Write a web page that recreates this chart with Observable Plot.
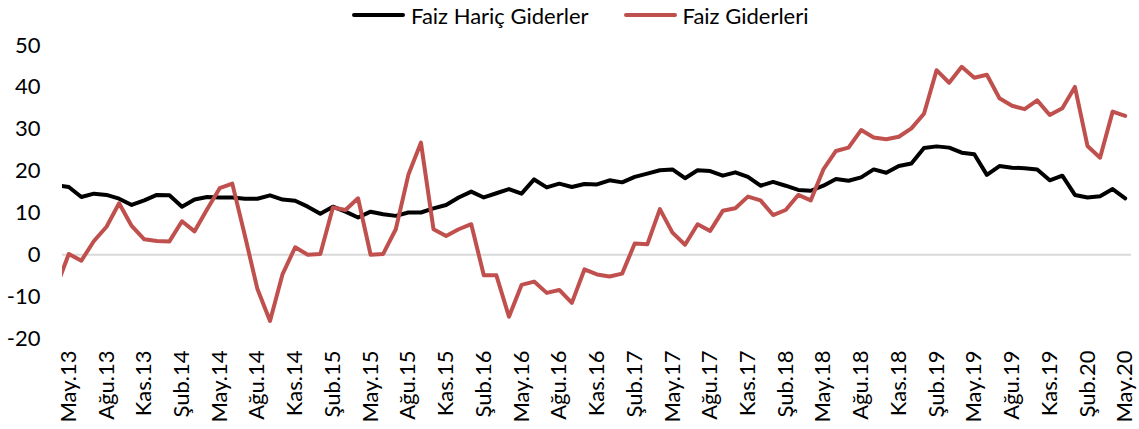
<!DOCTYPE html>
<html><head><meta charset="utf-8">
<script src="https://cdn.jsdelivr.net/npm/d3@7"></script>
<script src="https://cdn.jsdelivr.net/npm/@observablehq/plot@0.6"></script>
<style>
body{margin:0;background:#fff;font-family:Lato,sans-serif;}
#legend{height:30px;display:flex;align-items:center;padding-left:352px;font-size:22px;color:#000;}
.item{display:flex;align-items:center;margin-right:35px;}
.swatch{width:53px;height:4px;border-radius:2px;margin-right:6px;}
</style></head>
<body>
<div id="legend"></div>
<div id="chart"></div>
<script>
const seriesNames = ["Faiz Hariç Giderler", "Faiz Giderleri"];
const seriesColors = ["#000000", "#C0504D"];
// month index: -1 = Nis.13 (clipped), 0 = May.13 ... 84 = May.20
const monthIndex = d3.range(-1, 85);
const faizHaric = [16.6,
 16.2, 13.8, 14.6, 14.3, 13.4, 11.9, 13.0, 14.3, 14.2, 11.5, 13.2, 13.8,
 13.7, 13.7, 13.4, 13.4, 14.2, 13.2, 12.9, 11.5, 9.8, 11.5, 10.3, 8.9,
 10.3, 9.7, 9.3, 10.1, 10.1, 11.1, 11.9, 13.7, 15.1, 13.7, 14.7, 15.7,
 14.6, 18.0, 16.1, 17.0, 16.2, 16.9, 16.8, 17.8, 17.3, 18.6, 19.4, 20.2,
 20.4, 18.3, 20.2, 20.0, 18.9, 19.7, 18.6, 16.5, 17.4, 16.5, 15.5, 15.3,
 16.5, 18.1, 17.7, 18.5, 20.4, 19.6, 21.2, 21.8, 25.5, 25.9, 25.6, 24.4,
 24.0, 19.1, 21.2, 20.8, 20.7, 20.4, 17.8, 18.9, 14.3, 13.7, 14.0, 15.7,
 13.5];
const faizGider = [-7.8,
 0.2, -1.4, 3.3, 6.7, 12.3, 6.9, 3.7, 3.3, 3.2, 8.0, 5.6, 10.9,
 15.9, 17.0, 4.6, -8.2, -15.8, -4.6, 1.8, 0.0, 0.2, 11.3, 10.7, 13.5,
 0.0, 0.2, 6.1, 19.1, 26.8, 6.1, 4.5, 6.1, 7.3, -4.9, -4.9, -14.8,
 -7.2, -6.4, -9.1, -8.4, -11.5, -3.5, -4.7, -5.2, -4.5, 2.7, 2.5, 10.9,
 5.3, 2.4, 7.3, 5.7, 10.5, 11.1, 13.9, 13.0, 9.5, 10.7, 14.3, 13.0,
 20.4, 24.8, 25.6, 29.8, 28.0, 27.6, 28.2, 30.2, 33.7, 44.1, 41.1, 44.9,
 42.3, 43.0, 37.4, 35.6, 34.8, 36.9, 33.4, 35.0, 40.1, 26.0, 23.2, 34.2,
 33.2];
const tickLabels = ["May.13","Ağu.13","Kas.13","Şub.14","May.14","Ağu.14","Kas.14","Şub.15",
 "May.15","Ağu.15","Kas.15","Şub.16","May.16","Ağu.16","Kas.16","Şub.17","May.17","Ağu.17",
 "Kas.17","Şub.18","May.18","Ağu.18","Kas.18","Şub.19","May.19","Ağu.19","Kas.19","Şub.20","May.20"];
const yTicks = [-20, -10, 0, 10, 20, 30, 40, 50];

// legend
const legend = document.getElementById("legend");
seriesNames.forEach((n, k) => {
  const it = document.createElement("div"); it.className = "item";
  const sw = document.createElement("span"); sw.className = "swatch"; sw.style.background = seriesColors[k];
  const tx = document.createElement("span"); tx.textContent = n;
  it.appendChild(sw); it.appendChild(tx); legend.appendChild(it);
});

const seriesData = [faizHaric, faizGider].map(arr => monthIndex.map((m, k) => ({m, v: arr[k]})));

const chart = Plot.plot({
  width: 1139, height: 399,
  marginLeft: 62, marginRight: 8, marginTop: 15, marginBottom: 91,
  style: {fontFamily: "Lato, sans-serif", fontSize: "22px", color: "#000", background: "#fff"},
  x: {domain: [-0.5, 84.5]},
  y: {domain: [-20, 50]},
  marks: [
    Plot.ruleY([0], {stroke: "#d9d9d9", strokeWidth: 2}),
    Plot.axisY({ticks: yTicks, tickFormat: d => String(d), tickSize: 0, tickPadding: 22, label: null, fontSize: 22}),
    Plot.axisX({ticks: tickLabels.map((_, k) => k * 3), tickFormat: d => tickLabels[d / 3],
      tickRotate: -90, tickSize: 0, tickPadding: 12, label: null, fontSize: 22}),
    ...seriesData.map((data, k) => Plot.line(data, {x: "m", y: "v", stroke: seriesColors[k],
      strokeWidth: 4, clip: true, strokeLinejoin: "round", strokeLinecap: "round"}))
  ]
});
document.getElementById("chart").appendChild(chart);
</script>
</body></html>
